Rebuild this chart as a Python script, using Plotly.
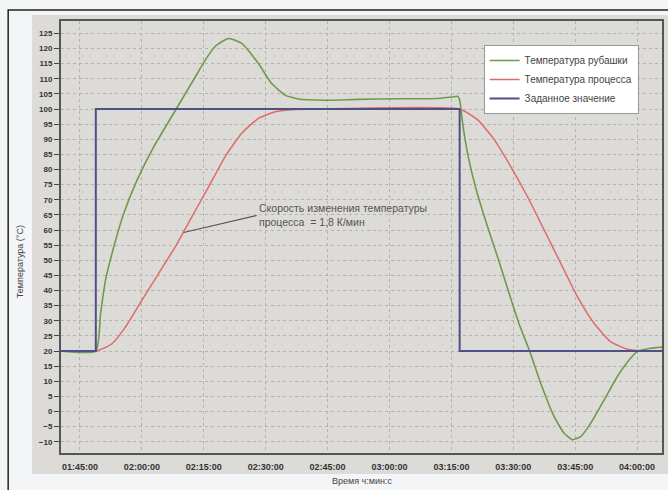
import plotly.graph_objects as go

DAY = "2024-01-01 "

# Заданное значение
setpoint_time = ["01:40:00", "01:48:50", "01:48:50", "03:17:00", "03:17:00", "04:07:00"]
setpoint_val = [20, 20, 100, 100, 20, 20]

# Температура рубашки
jacket_time = ["01:40:00", "01:48:50", "01:50:00", "01:51:12", "01:53:12", "01:55:36", "01:58:50",
               "02:02:52", "02:07:42", "02:12:30", "02:15:30", "02:18:00", "02:21:00", "02:24:12",
               "02:28:12", "02:31:24", "02:34:42", "02:37:54", "02:44:18", "02:52:24", "03:02:00",
               "03:11:42", "03:15:18", "03:16:30", "03:17:00", "03:17:45", "03:18:58", "03:20:53",
               "03:23:19", "03:26:13", "03:29:07", "03:31:31", "03:33:52", "03:36:40", "03:39:54",
               "03:42:19", "03:44:19", "03:46:20", "03:48:44", "03:51:59", "03:55:11", "03:58:25",
               "04:00:01", "04:03:14", "04:07:00"]
jacket_val = [20, 20, 32.5, 43.5, 54.5, 65.5, 76.5,
              87.5, 98.6, 109.6, 116.5, 121.0, 123.3, 121.7,
              115.1, 108.5, 104.6, 103.3, 102.9, 103.2, 103.4,
              103.5, 104.0, 104.2, 103, 95, 85, 74,
              63, 51, 38.5, 28.5, 20.3, 9.3, -1.7,
              -7.2, -9.3, -8.3, -3.9, 3.8, 11.5, 17.6,
              19.8, 20.9, 21.4]

# Температура процесса
process_time = ["01:40:00", "01:48:50", "01:49:35", "01:52:48", "01:56:02", "02:00:03", "02:04:05",
                "02:08:07", "02:12:08", "02:16:10", "02:20:11", "02:24:12", "02:28:14", "02:32:16",
                "02:36:12", "02:42:44", "03:17:00", "03:21:23", "03:25:25", "03:29:25", "03:33:27",
                "03:37:29", "03:41:30", "03:45:32", "03:49:34", "03:53:34", "03:57:36", "04:00:01",
                "04:07:00"]
process_val = [20, 20, 20.3, 22.5, 28, 36.9, 45.7,
               54.5, 64.4, 74.3, 84.3, 92, 96.9, 99.1,
               99.8, 100, 100, 96.4, 89.8, 80.9, 71,
               60, 49, 38, 29.2, 23.1, 20.6, 20.2,
               20]

note_time = "02:10:07"
note_val = 59.2

FONT = "Liberation Sans, Arial, sans-serif"

fig = go.Figure()
fig.add_trace(go.Scatter(x=[DAY + t for t in jacket_time], y=jacket_val, mode="lines",
                         name="Температура рубашки",
                         line=dict(color="#6f9a4e", width=1.6, shape="spline", smoothing=0.5)))
fig.add_trace(go.Scatter(x=[DAY + t for t in process_time], y=process_val, mode="lines",
                         name="Температура процесса",
                         line=dict(color="#e06a6a", width=1.5, shape="spline", smoothing=0.5)))
fig.add_trace(go.Scatter(x=[DAY + t for t in setpoint_time], y=setpoint_val, mode="lines",
                         name="Заданное значение",
                         line=dict(color="#4d5186", width=2)))

fig.add_annotation(x=DAY + note_time, y=note_val, ax=73, ay=-17,
                   text="Скорость изменения температуры<br>процесса  = 1,8 К/мин",
                   showarrow=True, arrowhead=0, arrowwidth=1.2, arrowcolor="#555",
                   xanchor="left", yanchor="middle", align="left",
                   font=dict(family=FONT, size=10.5, color="#555"))

# подписи осей
fig.add_annotation(x=(20 - 61) / 603, y=(453 - 262) / 432, xref="paper", yref="paper",
                   xanchor="center", yanchor="middle",
                   text="Температура (°C)", textangle=-90, showarrow=False,
                   font=dict(family=FONT, size=9, color="#444"))
fig.add_annotation(x=(363 - 61) / 603, y=(453 - 481) / 432, xref="paper", yref="paper",
                   xanchor="center", yanchor="middle",
                   text="Время ч:мин:с", showarrow=False,
                   font=dict(family=FONT, size=9, color="#444"))

# фон панели и рамка
fig.add_shape(type="rect", xref="paper", yref="paper", layer="below",
              x0=(32 - 61) / 603, x1=(670 - 61) / 603, y0=(453 - 474) / 432, y1=(453 - 15) / 432,
              fillcolor="#dddbd8", line=dict(width=0))
fig.add_shape(type="rect", xref="paper", yref="paper", layer="below",
              x0=(8 - 61) / 603, x1=(672 - 61) / 603, y0=(453 - 494) / 432, y1=(453 - 10) / 432,
              fillcolor="rgba(0,0,0,0)", line=dict(color="#222", width=1.5))

fig.update_xaxes(type="date", range=[DAY + "01:40:24", DAY + "04:06:02"],
                 tick0=DAY + "01:45:00", dtick=15 * 60 * 1000, tickformat="%H:%M:%S",
                 ticks="outside", ticklen=4, tickcolor="rgba(0,0,0,0)",
                 tickfont=dict(family=FONT, size=9, color="#333", weight="bold"),
                 showgrid=True, gridcolor="#b5b3b0", griddash="dot", gridwidth=1,
                 showline=True, linecolor="#555", linewidth=2, mirror=True, zeroline=False)
fig.update_yaxes(range=[-13.7, 129.1], tick0=0, dtick=5,
                 ticks="outside", ticklen=5, tickcolor="#444",
                 tickfont=dict(family=FONT, size=8, color="#333", weight="bold"),
                 showgrid=True, gridcolor="#b5b3b0", griddash="dot", gridwidth=1,
                 showline=True, linecolor="#555", linewidth=2, mirror=True, zeroline=False)

fig.update_layout(
    width=668, height=490,
    margin=dict(l=61, r=4, t=21, b=37),
    paper_bgcolor="#f3f5f7",
    plot_bgcolor="#e6e4e1",
    showlegend=True,
    legend=dict(x=(485 - 61) / 603, y=(453 - 45) / 432, xanchor="left", yanchor="top",
                bgcolor="white", bordercolor="#999", borderwidth=1,
                entrywidth=128, entrywidthmode="pixels",
                font=dict(family=FONT, size=10, color="#444"), tracegroupgap=0),
)

# убрать стандартный отступ страницы, чтобы график занимал окно целиком
fig.write_html("out.html", config={"displayModeBar": False},
               post_script="document.body.style.margin='0';")
